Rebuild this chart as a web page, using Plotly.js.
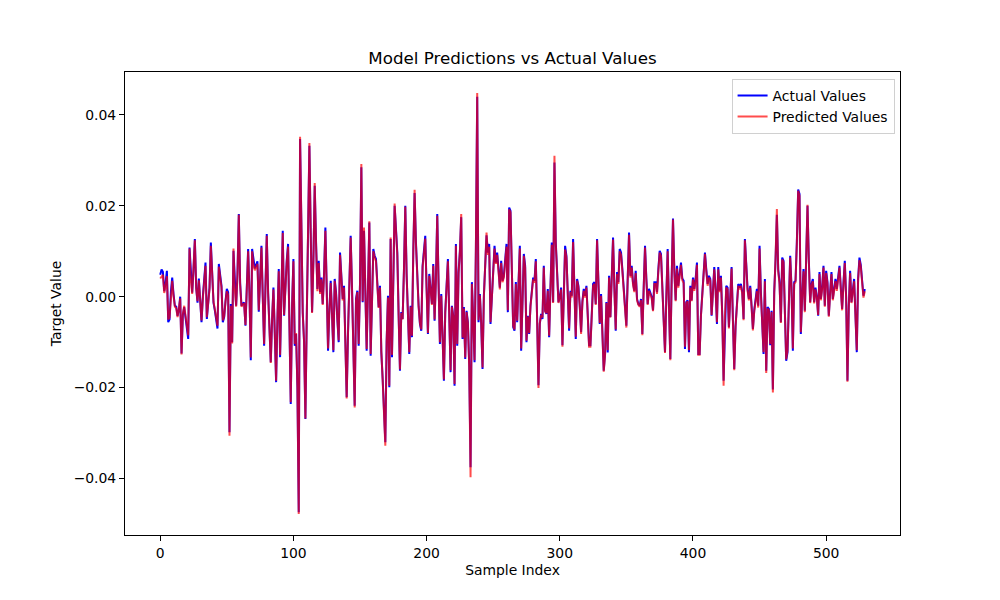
<!DOCTYPE html>
<html>
<head>
<meta charset="utf-8">
<script src="https://cdn.plot.ly/plotly-3.0.1.min.js"></script>
<style>
  html, body { margin: 0; padding: 0; background: #fff; }
  #chart { width: 1000px; height: 600px; }
</style>
</head>
<body>
<div id="chart"></div>
<script>
// values, one per sample index (0..529)
var actual = [
  0.0048, 0.0060, 0.0055, 0.0012, 0.0030, 0.0057, -0.0056, -0.0050, 0.0010, 0.0042,
  0.0005, -0.0020, -0.0022, -0.0042, -0.0030, 0.0000, -0.0125, -0.0040, -0.0023, -0.0045,
  -0.0070, -0.0093, 0.0108, 0.0040, 0.0009, 0.0060, 0.0127, 0.0020, -0.0013, 0.0040,
  -0.0010, -0.0056, 0.0000, 0.0030, 0.0075, -0.0049, -0.0010, 0.0020, 0.0119, 0.0040,
  -0.0013, -0.0030, -0.0050, -0.0070, 0.0072, 0.0040, 0.0024, -0.0056, -0.0045, -0.0010,
  0.0017, 0.0010, -0.0298, -0.0016, -0.0100, 0.0101, 0.0020, -0.0020, 0.0050, 0.0182,
  0.0030, -0.0020, -0.0015, -0.0013, -0.0064, 0.0020, 0.0105, 0.0010, -0.0140, 0.0105,
  0.0075, 0.0062, 0.0070, 0.0078, -0.0033, 0.0030, 0.0112, 0.0000, -0.0108, 0.0020,
  0.0138, 0.0010, -0.0080, -0.0144, -0.0050, 0.0020, -0.0080, -0.0188, -0.0050, 0.0061,
  -0.0133, 0.0010, 0.0145, -0.0042, 0.0030, 0.0080, 0.0116, -0.0060, -0.0236, -0.0020,
  0.0083, -0.0108, -0.0082, -0.0200, -0.0474, 0.0347, 0.0120, -0.0034, -0.0100, -0.0269,
  -0.0050, 0.0150, 0.0332, 0.0140, -0.0034, 0.0080, 0.0244, 0.0120, 0.0017, 0.0079,
  0.0010, 0.0042, -0.0016, 0.0050, 0.0152, 0.0020, -0.0119, -0.0030, 0.0035, -0.0040,
  -0.0122, 0.0039, 0.0010, -0.0050, -0.0100, 0.0097, 0.0030, -0.0005, 0.0024, -0.0100,
  -0.0221, -0.0080, 0.0040, 0.0134, 0.0020, -0.0137, -0.0240, -0.0005, 0.0013, -0.0108,
  0.0030, 0.0285, -0.0012, 0.0145, 0.0010, -0.0119, 0.0020, 0.0163, -0.0130, 0.0020,
  0.0105, 0.0090, 0.0083, 0.0030, -0.0023, 0.0024, -0.0122, -0.0180, -0.0250, -0.0320,
  -0.0100, 0.0002, -0.0199, 0.0127, -0.0133, 0.0050, 0.0200, 0.0150, 0.0097, -0.0040,
  -0.0163, -0.0034, -0.0049, 0.0060, 0.0200, 0.0050, -0.0030, -0.0126, -0.0020, -0.0089,
  0.0100, 0.0228, 0.0120, 0.0032, -0.0020, -0.0060, -0.0075, 0.0068, 0.0100, 0.0134,
  0.0020, -0.0082, 0.0050, 0.0010, -0.0016, 0.0072, -0.0053, 0.0040, 0.0182, 0.0030,
  -0.0104, 0.0006, -0.0080, -0.0185, -0.0034, 0.0020, 0.0083, -0.0040, -0.0166, -0.0020,
  -0.0042, -0.0196, 0.0116, -0.0108, 0.0054, 0.0100, 0.0175, -0.0093, -0.0023, -0.0137,
  -0.0031, -0.0056, -0.0150, -0.0375, 0.0032, -0.0050, -0.0144, 0.0100, 0.0440, -0.0056,
  0.0006, -0.0060, -0.0159, 0.0002, 0.0080, 0.0135, 0.0097, 0.0116, -0.0060, 0.0000,
  0.0060, 0.0112, 0.0075, 0.0097, 0.0060, 0.0020, 0.0079, 0.0035, 0.0046, 0.0080,
  0.0116, -0.0034, 0.0196, 0.0189, 0.0060, -0.0067, -0.0075, 0.0032, -0.0056, 0.0040,
  0.0112, -0.0119, 0.0010, 0.0094, 0.0068, -0.0100, -0.0042, -0.0082, -0.0020, 0.0020,
  0.0042, 0.0035, 0.0083, -0.0050, -0.0195, -0.0060, -0.0038, -0.0049, 0.0068, -0.0031,
  -0.0038, 0.0017, -0.0089, 0.0020, 0.0119, -0.0012, 0.0295, 0.0120, 0.0046, -0.0012,
  0.0000, 0.0020, -0.0107, 0.0040, 0.0112, 0.0090, 0.0010, -0.0075, 0.0013, 0.0002,
  0.0127, 0.0010, -0.0093, 0.0039, 0.0024, -0.0020, -0.0078, -0.0010, 0.0017, 0.0002,
  0.0024, -0.0040, -0.0107, -0.0107, -0.0020, 0.0028, 0.0032, -0.0016, 0.0127, 0.0040,
  -0.0060, 0.0006, -0.0080, -0.0163, -0.0126, -0.0012, -0.0123, 0.0046, -0.0045, 0.0050,
  0.0130, 0.0020, -0.0075, 0.0054, 0.0032, 0.0105, 0.0097, 0.0060, 0.0017, -0.0020,
  -0.0064, 0.0040, 0.0141, 0.0046, 0.0068, 0.0030, 0.0013, 0.0057, -0.0005, -0.0016,
  -0.0020, -0.0005, -0.0082, 0.0020, 0.0112, 0.0040, -0.0016, 0.0017, 0.0010, 0.0000,
  -0.0030, 0.0032, 0.0032, 0.0010, 0.0060, 0.0101, 0.0094, 0.0020, -0.0060, -0.0122,
  0.0000, 0.0105, -0.0020, -0.0137, 0.0040, 0.0172, 0.0060, -0.0008, 0.0068, 0.0024,
  0.0050, 0.0075, 0.0040, 0.0035, -0.0115, -0.0012, -0.0008, -0.0122, 0.0024, -0.0008,
  0.0042, 0.0017, 0.0040, 0.0075, -0.0126, -0.0126, -0.0040, 0.0010, 0.0060, 0.0097,
  0.0060, 0.0028, 0.0046, 0.0039, -0.0042, 0.0010, 0.0065, 0.0017, -0.0060, 0.0065,
  0.0013, 0.0046, -0.0040, -0.0185, -0.0040, 0.0024, 0.0020, -0.0067, 0.0000, 0.0065,
  -0.0050, -0.0159, -0.0064, -0.0020, 0.0028, 0.0020, 0.0028, 0.0010, -0.0049, 0.0127,
  0.0060, 0.0017, -0.0005, 0.0024, -0.0020, -0.0071, -0.0030, 0.0002, 0.0017, -0.0020,
  0.0112, 0.0010, -0.0060, -0.0126, 0.0039, -0.0163, -0.0023, -0.0027, -0.0107, -0.0031,
  -0.0204, 0.0010, 0.0080, 0.0180, 0.0060, 0.0032, -0.0056, 0.0086, 0.0079, -0.0040,
  -0.0141, -0.0122, -0.0020, 0.0090, 0.0020, -0.0119, 0.0032, 0.0035, 0.0120, 0.0236,
  0.0226, -0.0082, 0.0002, 0.0061, -0.0031, 0.0080, 0.0200, 0.0080, -0.0012, 0.0028,
  0.0039, -0.0012, 0.0020, 0.0000, -0.0042, 0.0054, -0.0005, 0.0020, 0.0068, -0.0020,
  0.0057, 0.0032, -0.0042, 0.0010, 0.0054, -0.0005, 0.0017, 0.0039, 0.0017, 0.0040,
  0.0068, 0.0020, -0.0027, 0.0030, 0.0079, 0.0000, -0.0185, -0.0020, 0.0057, -0.0012,
  0.0010, 0.0039, -0.0040, -0.0122, 0.0040, 0.0086, 0.0070, 0.0024, 0.0002, 0.0017
];

var predicted = [
  0.0040, 0.0045, 0.0048, 0.0008, 0.0022, 0.0045, -0.0050, -0.0046, 0.0004, 0.0035,
  0.0002, -0.0022, -0.0025, -0.0045, -0.0026, -0.0004, -0.0127, -0.0038, -0.0020, -0.0042,
  -0.0064, -0.0085, 0.0106, 0.0036, 0.0006, 0.0055, 0.0124, 0.0018, -0.0010, 0.0036,
  -0.0012, -0.0052, -0.0003, 0.0026, 0.0068, -0.0045, -0.0012, 0.0016, 0.0112, 0.0037,
  -0.0011, -0.0028, -0.0046, -0.0064, 0.0066, 0.0036, 0.0020, -0.0052, -0.0043, -0.0012,
  0.0012, 0.0004, -0.0306, -0.0020, -0.0103, 0.0106, 0.0016, -0.0022, 0.0046, 0.0180,
  0.0026, -0.0022, -0.0017, -0.0016, -0.0062, 0.0016, 0.0100, 0.0006, -0.0134, 0.0100,
  0.0070, 0.0058, 0.0064, 0.0072, -0.0030, 0.0027, 0.0108, -0.0003, -0.0104, 0.0016,
  0.0134, 0.0007, -0.0078, -0.0146, -0.0048, 0.0016, -0.0078, -0.0185, -0.0046, 0.0056,
  -0.0128, 0.0006, 0.0140, -0.0040, 0.0026, 0.0076, 0.0110, -0.0058, -0.0232, -0.0022,
  0.0078, -0.0104, -0.0080, -0.0198, -0.0478, 0.0352, 0.0116, -0.0036, -0.0098, -0.0268,
  -0.0052, 0.0148, 0.0338, 0.0138, -0.0036, 0.0076, 0.0250, 0.0116, 0.0012, 0.0074,
  0.0006, 0.0038, -0.0018, 0.0046, 0.0145, 0.0016, -0.0114, -0.0032, 0.0030, -0.0042,
  -0.0118, 0.0035, 0.0006, -0.0048, -0.0096, 0.0092, 0.0026, -0.0008, 0.0020, -0.0102,
  -0.0224, -0.0078, 0.0036, 0.0130, 0.0016, -0.0140, -0.0244, -0.0008, 0.0010, -0.0104,
  0.0026, 0.0292, -0.0010, 0.0152, 0.0006, -0.0115, 0.0016, 0.0166, -0.0126, 0.0016,
  0.0100, 0.0086, 0.0078, 0.0026, -0.0025, 0.0020, -0.0120, -0.0182, -0.0254, -0.0328,
  -0.0098, -0.0002, -0.0196, 0.0130, -0.0128, 0.0046, 0.0205, 0.0146, 0.0092, -0.0042,
  -0.0160, -0.0036, -0.0050, 0.0056, 0.0198, 0.0046, -0.0032, -0.0122, -0.0022, -0.0086,
  0.0096, 0.0235, 0.0116, 0.0028, -0.0022, -0.0058, -0.0072, 0.0064, 0.0096, 0.0128,
  0.0016, -0.0080, 0.0046, 0.0006, -0.0018, 0.0068, -0.0050, 0.0036, 0.0178, 0.0026,
  -0.0100, 0.0002, -0.0078, -0.0182, -0.0036, 0.0016, 0.0078, -0.0042, -0.0162, -0.0022,
  -0.0044, -0.0192, 0.0112, -0.0104, 0.0050, 0.0098, 0.0182, -0.0090, -0.0026, -0.0134,
  -0.0034, -0.0058, -0.0156, -0.0397, 0.0028, -0.0052, -0.0140, 0.0104, 0.0448, -0.0052,
  0.0003, -0.0058, -0.0156, -0.0002, 0.0076, 0.0141, 0.0092, 0.0110, -0.0056, -0.0003,
  0.0056, 0.0106, 0.0072, 0.0092, 0.0056, 0.0016, 0.0074, 0.0032, 0.0042, 0.0076,
  0.0110, -0.0030, 0.0192, 0.0186, 0.0056, -0.0064, -0.0072, 0.0028, -0.0053, 0.0036,
  0.0106, -0.0114, 0.0006, 0.0090, 0.0064, -0.0097, -0.0044, -0.0080, -0.0022, 0.0016,
  0.0038, 0.0031, 0.0078, -0.0054, -0.0201, -0.0058, -0.0040, -0.0046, 0.0064, -0.0033,
  -0.0036, 0.0013, -0.0086, 0.0016, 0.0114, -0.0014, 0.0310, 0.0116, 0.0042, -0.0014,
  -0.0003, 0.0016, -0.0110, 0.0036, 0.0104, 0.0086, 0.0006, -0.0070, 0.0010, -0.0002,
  0.0120, 0.0006, -0.0088, 0.0035, 0.0020, -0.0022, -0.0082, -0.0012, 0.0013, -0.0002,
  0.0020, -0.0042, -0.0110, -0.0110, -0.0022, 0.0024, 0.0028, -0.0018, 0.0124, 0.0036,
  -0.0058, 0.0002, -0.0078, -0.0165, -0.0128, -0.0014, -0.0118, 0.0042, -0.0046, 0.0046,
  0.0126, 0.0016, -0.0072, 0.0050, 0.0028, 0.0100, 0.0092, 0.0056, 0.0013, -0.0022,
  -0.0068, 0.0036, 0.0136, 0.0042, 0.0064, 0.0026, 0.0010, 0.0052, -0.0008, -0.0018,
  -0.0022, -0.0008, -0.0085, 0.0016, 0.0108, 0.0036, -0.0018, 0.0013, 0.0006, -0.0003,
  -0.0032, 0.0028, 0.0028, 0.0006, 0.0056, 0.0097, 0.0090, 0.0016, -0.0062, -0.0124,
  -0.0003, 0.0100, -0.0022, -0.0140, 0.0036, 0.0170, 0.0056, -0.0010, 0.0062, 0.0020,
  0.0046, 0.0070, 0.0036, 0.0030, -0.0110, -0.0014, -0.0010, -0.0118, 0.0020, -0.0010,
  0.0038, 0.0013, 0.0036, 0.0070, -0.0128, -0.0128, -0.0042, 0.0006, 0.0056, 0.0094,
  0.0056, 0.0024, 0.0042, 0.0035, -0.0040, 0.0006, 0.0060, 0.0013, -0.0056, 0.0060,
  0.0010, 0.0042, -0.0044, -0.0196, -0.0042, 0.0020, 0.0016, -0.0070, -0.0003, 0.0062,
  -0.0054, -0.0162, -0.0066, -0.0022, 0.0024, 0.0016, 0.0024, 0.0006, -0.0052, 0.0124,
  0.0056, 0.0013, -0.0008, 0.0020, -0.0022, -0.0074, -0.0033, -0.0002, 0.0012, -0.0024,
  0.0106, 0.0006, -0.0062, -0.0122, 0.0034, -0.0168, -0.0026, -0.0030, -0.0104, -0.0034,
  -0.0211, 0.0006, 0.0084, 0.0193, 0.0056, 0.0028, -0.0058, 0.0082, 0.0076, -0.0044,
  -0.0138, -0.0118, -0.0022, 0.0086, 0.0016, -0.0114, 0.0028, 0.0032, 0.0116, 0.0233,
  0.0222, -0.0078, -0.0002, 0.0056, -0.0034, 0.0076, 0.0202, 0.0076, -0.0014, 0.0024,
  0.0034, -0.0015, 0.0016, -0.0003, -0.0040, 0.0050, -0.0008, 0.0016, 0.0064, -0.0022,
  0.0052, 0.0028, -0.0044, 0.0006, 0.0050, -0.0008, 0.0013, 0.0034, 0.0013, 0.0036,
  0.0064, 0.0016, -0.0030, 0.0026, 0.0074, -0.0003, -0.0187, -0.0022, 0.0052, -0.0014,
  0.0006, 0.0034, -0.0042, -0.0118, 0.0036, 0.0080, 0.0066, 0.0020, -0.0002, 0.0012
];

var xTicks = [0, 100, 200, 300, 400, 500];
var yTicks = [-0.04, -0.02, 0.00, 0.02, 0.04];
var yTickText = ['\u22120.04', '\u22120.02', '0.00', '0.02', '0.04'];

var idx = [];
for (var i = 0; i < actual.length; i++) idx.push(i);

var n = actual.length - 1;
var lo = Math.min(Math.min.apply(null, actual), Math.min.apply(null, predicted));
var hi = Math.max(Math.max.apply(null, actual), Math.max.apply(null, predicted));
var pad = (hi - lo) * 0.05;

var data = [
  {
    x: idx, y: actual,
    mode: 'lines', type: 'scatter',
    name: 'Actual Values',
    line: {color: '#0000ff', width: 2}
  },
  {
    x: idx, y: predicted,
    mode: 'lines', type: 'scatter',
    name: 'Predicted Values',
    line: {color: 'rgba(255,0,0,0.7)', width: 2}
  }
];

var layout = {
  width: 1000, height: 600,
  margin: {l: 125, r: 100, t: 72, b: 65},
  paper_bgcolor: '#fff', plot_bgcolor: '#fff',
  font: {family: 'DejaVu Sans, sans-serif', size: 13.9, color: '#000'},
  title: {
    text: 'Model Predictions vs Actual Values',
    font: {size: 16.7, color: '#000'},
    x: 0.5125, xanchor: 'center', y: 0.903, yanchor: 'middle'
  },
  xaxis: {
    range: [-n * 0.05, n * 1.05],
    tickvals: xTicks,
    ticks: 'outside', ticklen: 5, tickwidth: 1, tickcolor: '#000',
    showline: true, mirror: true, linecolor: '#000', linewidth: 1,
    showgrid: false, zeroline: false,
    title: {text: 'Sample Index', font: {size: 13.9}, standoff: 5}
  },
  yaxis: {
    range: [lo - pad, hi + pad],
    tickvals: yTicks, ticktext: yTickText,
    ticks: 'outside', ticklen: 5, tickwidth: 1, tickcolor: '#000',
    showline: true, mirror: true, linecolor: '#000', linewidth: 1,
    showgrid: false, zeroline: false,
    title: {text: 'Target Value', font: {size: 13.9}, standoff: 8}
  },
  showlegend: true,
  legend: {
    x: 0.993, y: 0.985, xanchor: 'right', yanchor: 'top',
    bgcolor: 'rgba(255,255,255,0.8)', bordercolor: '#d0d0d0', borderwidth: 1,
    font: {size: 13.9}, tracegroupgap: 2
  }
};

Plotly.newPlot('chart', data, layout, {displayModeBar: false, staticPlot: true});
</script>
</body>
</html>
